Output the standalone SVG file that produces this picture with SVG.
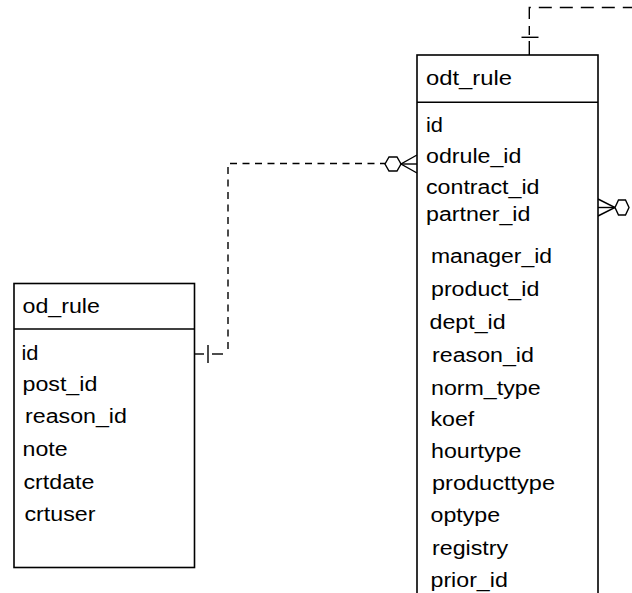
<svg xmlns="http://www.w3.org/2000/svg" width="632" height="593" viewBox="0 0 632 593">
  <style>
    .box { fill: #ffffff; stroke: #000000; stroke-width: 1.6; }
    .sep { stroke: #000000; stroke-width: 1.6; }
    .lbl { font-family: "Liberation Sans", Arial, sans-serif; font-size: 20px; fill: #000000; }
    .rel { fill: none; stroke: #000000; stroke-width: 1.4; }
    .dash-s { stroke-dasharray: 7 5.5; }
    .sym { fill: #ffffff; stroke: #000000; stroke-width: 1.4; }
  </style>

  <!-- relationships -->
  <g id="connectors">
    <!-- od_rule.id  ->  odt_rule.odrule_id -->
    <line class="rel" x1="194" y1="354" x2="204" y2="354"/>
    <line class="rel" x1="208" y1="345" x2="208" y2="363"/>
    <line class="rel" x1="212" y1="354" x2="223" y2="354"/>
    <polyline class="rel dash-s" points="228,349 228,163.5 385,163.5"/>
    <polygon class="sym" points="385,164 389,157 397,157 401,164 397,171 389,171"/>
    <polyline class="rel" points="417,155 401,164 417,173"/>
    <line class="rel" x1="401" y1="164" x2="417" y2="164"/>

    <!-- odt_rule (top) -->
    <line class="rel" x1="529.3" y1="55" x2="529.3" y2="41"/>
    <line class="rel" x1="521.5" y1="37.3" x2="538.5" y2="37.3"/>
    <polyline class="rel" points="529.3,35 529.3,7.5 632,7.5" style="stroke-dasharray: 9 7 13 8 13 8 13 8 13 8 13 8 13 8 13 8"/>

    <!-- odt_rule.partner_id (right) -->
    <polyline class="rel" points="598,199 615,207.5 598,216"/>
    <line class="rel" x1="598" y1="207.5" x2="615" y2="207.5"/>
    <polygon class="sym" points="615,207.5 618.5,200 625.5,200 629,207.5 625.5,215 618.5,215"/>
  </g>

  <!-- table od_rule -->
  <g id="od_rule">
    <rect class="box" x="14" y="283.5" width="180.5" height="284"/>
    <line class="sep" x1="14" y1="329" x2="194.5" y2="329"/>
    <text class="lbl" x="22.5" y="313" textLength="77.4" lengthAdjust="spacingAndGlyphs">od_rule</text>
    <text class="lbl" x="21.5" y="360" textLength="17" lengthAdjust="spacingAndGlyphs">id</text>
    <text class="lbl" x="22.5" y="390.5" textLength="74.8" lengthAdjust="spacingAndGlyphs">post_id</text>
    <text class="lbl" x="25" y="423" textLength="101.9" lengthAdjust="spacingAndGlyphs">reason_id</text>
    <text class="lbl" x="22.5" y="456" textLength="45.1" lengthAdjust="spacingAndGlyphs">note</text>
    <text class="lbl" x="23.5" y="488.5" textLength="70.9" lengthAdjust="spacingAndGlyphs">crtdate</text>
    <text class="lbl" x="24.5" y="521" textLength="70.9" lengthAdjust="spacingAndGlyphs">crtuser</text>
  </g>

  <!-- table odt_rule (continues below the view) -->
  <g id="odt_rule">
    <rect class="box" x="417" y="55" width="181" height="560"/>
    <line class="sep" x1="417" y1="102.3" x2="598" y2="102.3"/>
    <text class="lbl" x="426" y="84.5" textLength="86" lengthAdjust="spacingAndGlyphs">odt_rule</text>
    <text class="lbl" x="426" y="132" textLength="17" lengthAdjust="spacingAndGlyphs">id</text>
    <text class="lbl" x="426" y="163" textLength="95.4" lengthAdjust="spacingAndGlyphs">odrule_id</text>
    <text class="lbl" x="426" y="193.5" textLength="113.5" lengthAdjust="spacingAndGlyphs">contract_id</text>
    <text class="lbl" x="426" y="221" textLength="104.4" lengthAdjust="spacingAndGlyphs">partner_id</text>
    <text class="lbl" x="431" y="263" textLength="121" lengthAdjust="spacingAndGlyphs">manager_id</text>
    <text class="lbl" x="431" y="296" textLength="108.3" lengthAdjust="spacingAndGlyphs">product_id</text>
    <text class="lbl" x="429.5" y="329" textLength="76.1" lengthAdjust="spacingAndGlyphs">dept_id</text>
    <text class="lbl" x="432" y="362" textLength="101.9" lengthAdjust="spacingAndGlyphs">reason_id</text>
    <text class="lbl" x="431" y="395" textLength="109.6" lengthAdjust="spacingAndGlyphs">norm_type</text>
    <text class="lbl" x="430.5" y="425.5" textLength="43.8" lengthAdjust="spacingAndGlyphs">koef</text>
    <text class="lbl" x="431" y="457.5" textLength="90.3" lengthAdjust="spacingAndGlyphs">hourtype</text>
    <text class="lbl" x="432" y="489.5" textLength="123" lengthAdjust="spacingAndGlyphs">producttype</text>
    <text class="lbl" x="430.5" y="522" textLength="69.6" lengthAdjust="spacingAndGlyphs">optype</text>
    <text class="lbl" x="432" y="555" textLength="76.1" lengthAdjust="spacingAndGlyphs">registry</text>
    <text class="lbl" x="430.5" y="587" textLength="77.3" lengthAdjust="spacingAndGlyphs">prior_id</text>
  </g>
</svg>
